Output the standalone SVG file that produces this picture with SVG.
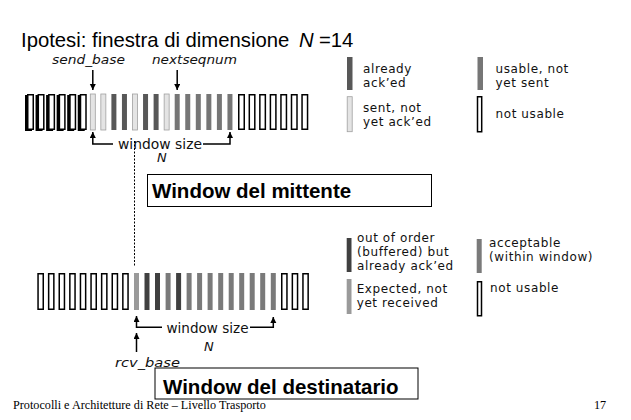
<svg xmlns="http://www.w3.org/2000/svg" width="631" height="420" viewBox="0 0 631 420">
<defs>
<style>
.nu{fill:#fff;stroke:#000;stroke-width:1.5}
.sh{fill:#000}
.dk{fill:#585858}
.md{fill:#767676}
.lt{fill:#e4e4e4;stroke:#a0a0a0;stroke-width:0.8}
.rdk{fill:#404040}
.rmd{fill:#7a7a7a}
.rex{fill:#9a9a9a}
.lg{font-family:"DejaVu Sans",sans-serif;font-size:12px;letter-spacing:0.6px;fill:#111}
.lb{font-family:"DejaVu Sans",sans-serif;font-size:13.5px;fill:#111}
.it{font-family:"DejaVu Sans",sans-serif;font-style:italic;font-size:13px;fill:#111}
.ln{fill:none;stroke:#000;stroke-width:1.5}
.box{fill:#fff;stroke:#000;stroke-width:1}
.bt{font-family:"Liberation Sans",Arial,sans-serif;font-weight:bold;font-size:20.5px;fill:#000}
</style>
<marker id="ah" markerUnits="userSpaceOnUse" markerWidth="7" markerHeight="7" refX="6" refY="3" orient="auto">
<path d="M0,0 L6,3 L0,6 z" fill="#000"/>
</marker>
</defs>
<rect width="631" height="420" fill="#fff"/>

<g id="title">
<text x="21" y="47" font-family="Liberation Sans,Arial,sans-serif" font-size="20.3" fill="#000">Ipotesi: finestra di dimensione</text>
<text x="299" y="47" font-family="Liberation Sans,Arial,sans-serif" font-size="20.3" font-style="italic" fill="#000">N</text>
<text x="319" y="47" font-family="Liberation Sans,Arial,sans-serif" font-size="20.3" fill="#000">=14</text>
</g>

<g id="sender-window">
<rect class="sh" x="25" y="95" width="7" height="36"/>
<rect class="sh" x="35.55" y="95" width="7" height="36"/>
<rect class="sh" x="46.1" y="95" width="7" height="36"/>
<rect class="sh" x="56.65" y="95" width="7" height="36"/>
<rect class="sh" x="67.2" y="95" width="7" height="36"/>
<rect class="sh" x="77.75" y="95" width="7" height="36"/>
<rect class="nu" x="27.75" y="94.75" width="5.5" height="34.5"/>
<rect class="nu" x="38.3" y="94.75" width="5.5" height="34.5"/>
<rect class="nu" x="48.85" y="94.75" width="5.5" height="34.5"/>
<rect class="nu" x="59.4" y="94.75" width="5.5" height="34.5"/>
<rect class="nu" x="69.95" y="94.75" width="5.5" height="34.5"/>
<rect class="nu" x="80.5" y="94.75" width="5.5" height="34.5"/>
<rect class="lt" x="90.3" y="94" width="5" height="36"/>
<rect class="lt" x="100.85" y="94" width="5" height="36"/>
<rect class="dk" x="111.4" y="94" width="5" height="36"/>
<rect class="dk" x="121.95" y="94" width="5" height="36"/>
<rect class="lt" x="132.5" y="94" width="5" height="36"/>
<rect class="dk" x="143.05" y="94" width="5" height="36"/>
<rect class="dk" x="153.6" y="94" width="5" height="36"/>
<rect class="lt" x="164.15" y="94" width="5" height="36"/>
<rect class="md" x="174.7" y="94" width="5" height="36"/>
<rect class="md" x="185.25" y="94" width="5" height="36"/>
<rect class="md" x="195.8" y="94" width="5" height="36"/>
<rect class="md" x="206.35" y="94" width="5" height="36"/>
<rect class="md" x="216.9" y="94" width="5" height="36"/>
<rect class="md" x="227.45" y="94" width="5" height="36"/>
<rect class="nu" x="238.75" y="94.75" width="5.5" height="34.5"/>
<rect class="nu" x="249.3" y="94.75" width="5.5" height="34.5"/>
<rect class="nu" x="259.85" y="94.75" width="5.5" height="34.5"/>
<rect class="nu" x="270.4" y="94.75" width="5.5" height="34.5"/>
<rect class="nu" x="280.95" y="94.75" width="5.5" height="34.5"/>
<rect class="nu" x="291.5" y="94.75" width="5.5" height="34.5"/>
<rect class="nu" x="302.05" y="94.75" width="5.5" height="34.5"/>
<text class="it" x="52" y="64" textLength="73" lengthAdjust="spacingAndGlyphs">send_base</text>
<text class="it" x="152" y="64" textLength="85" lengthAdjust="spacingAndGlyphs">nextseqnum</text>
<text class="lb" x="118" y="148.5" textLength="84" lengthAdjust="spacingAndGlyphs">window size</text>
<text class="it" x="157" y="162">N</text>
</g>

<g id="receiver-window">
<rect class="nu" x="38.05" y="273.75" width="5.2" height="35.5"/>
<rect class="nu" x="48.65" y="273.75" width="5.2" height="35.5"/>
<rect class="nu" x="59.25" y="273.75" width="5.2" height="35.5"/>
<rect class="nu" x="69.85" y="273.75" width="5.2" height="35.5"/>
<rect class="nu" x="80.45" y="273.75" width="5.2" height="35.5"/>
<rect class="nu" x="91.05" y="273.75" width="5.2" height="35.5"/>
<rect class="nu" x="101.65" y="273.75" width="5.2" height="35.5"/>
<rect class="nu" x="112.25" y="273.75" width="5.2" height="35.5"/>
<rect class="nu" x="122.85" y="273.75" width="5.2" height="35.5"/>
<rect class="rex" x="134" y="273" width="5" height="37"/>
<rect class="rdk" x="144.5" y="273" width="5" height="37"/>
<rect class="rdk" x="155" y="273" width="5" height="37"/>
<rect class="rmd" x="165.6" y="273" width="5" height="37"/>
<rect class="rdk" x="176.1" y="273" width="5" height="37"/>
<rect class="rmd" x="186.6" y="273" width="5" height="37"/>
<rect class="rmd" x="197.1" y="273" width="5" height="37"/>
<rect class="rmd" x="207.6" y="273" width="5" height="37"/>
<rect class="rmd" x="218.2" y="273" width="5" height="37"/>
<rect class="rmd" x="228.7" y="273" width="5" height="37"/>
<rect class="rmd" x="239.2" y="273" width="5" height="37"/>
<rect class="rmd" x="249.7" y="273" width="5" height="37"/>
<rect class="rmd" x="260.2" y="273" width="5" height="37"/>
<rect class="rmd" x="270.8" y="273" width="5" height="37"/>
<rect class="nu" x="281.75" y="273.75" width="5.2" height="35.5"/>
<rect class="nu" x="292.35" y="273.75" width="5.2" height="35.5"/>
<rect class="nu" x="302.95" y="273.75" width="5.2" height="35.5"/>
<text class="lb" x="166.5" y="333" textLength="82" lengthAdjust="spacingAndGlyphs">window size</text>
<text class="it" x="204" y="351">N</text>
<text class="it" x="115" y="366.5" textLength="65" lengthAdjust="spacingAndGlyphs">rcv_base</text>
</g>

<g id="connectors">
<line class="ln" x1="92.8" y1="70" x2="92.8" y2="90" marker-end="url(#ah)"/>
<line class="ln" x1="177.2" y1="70" x2="177.2" y2="90" marker-end="url(#ah)"/>
<path class="ln" d="M113,144 H92.8 V132" marker-end="url(#ah)"/>
<path class="ln" d="M203,144 H230 V132" marker-end="url(#ah)"/>
<line x1="134.5" y1="141" x2="134.5" y2="267" stroke="#000" stroke-width="1" stroke-dasharray="2 1.5"/>
<path class="ln" d="M162,327.3 H136.5 V316" marker-end="url(#ah)"/>
<path class="ln" d="M250,327.3 H273.3 V317" marker-end="url(#ah)"/>
<line class="ln" x1="136.5" y1="352" x2="136.5" y2="333" marker-end="url(#ah)"/>
</g>

<g id="legend-sender">
<rect class="dk" x="347" y="57" width="5.5" height="33"/>
<text class="lg" x="363" y="73">already</text>
<text class="lg" x="363" y="87">ack’ed</text>
<rect class="md" x="477.5" y="57" width="5.5" height="33"/>
<text class="lg" x="495.5" y="72.5">usable, not</text>
<text class="lg" x="495.5" y="86.5">yet sent</text>
<rect class="lt" x="347.2" y="96.7" width="5" height="35"/>
<text class="lg" x="363" y="112">sent, not</text>
<text class="lg" x="363" y="126">yet ack’ed</text>
<rect class="nu" x="477.5" y="96.75" width="4.2" height="35"/>
<text class="lg" x="495.5" y="117.5">not usable</text>
</g>

<g id="legend-receiver">
<rect class="rdk" x="346.7" y="238" width="4.8" height="34"/>
<text class="lg" x="357" y="241.5">out of order</text>
<text class="lg" x="357" y="255.5">(buffered) but</text>
<text class="lg" x="357" y="269.5">already ack’ed</text>
<rect class="rmd" x="476.7" y="239" width="5" height="34"/>
<text class="lg" x="489" y="246.5">acceptable</text>
<text class="lg" x="489" y="260.5">(within window)</text>
<rect class="rex" x="346.7" y="279" width="4.8" height="35"/>
<text class="lg" x="356.7" y="293.3">Expected,  not</text>
<text class="lg" x="356.7" y="307.3">yet received</text>
<rect class="nu" x="477.5" y="281.75" width="4" height="34"/>
<text class="lg" x="490" y="291.5">not usable</text>
</g>

<g id="box-mittente">
<rect class="box" x="147.5" y="174.5" width="284" height="32"/>
<text class="bt" x="152" y="198">Window del mittente</text>
</g>

<g id="box-destinatario">
<rect class="box" x="155" y="368" width="263" height="31"/>
<text class="bt" x="163" y="394">Window del destinatario</text>
</g>

<g id="footer">
<text x="13" y="409.3" font-family="Liberation Serif,Times New Roman,serif" font-size="12.2" fill="#000">Protocolli e Architetture di Rete – Livello Trasporto</text>
<text x="594" y="409.3" font-family="Liberation Serif,Times New Roman,serif" font-size="12.2" fill="#000">17</text>
</g>
</svg>
